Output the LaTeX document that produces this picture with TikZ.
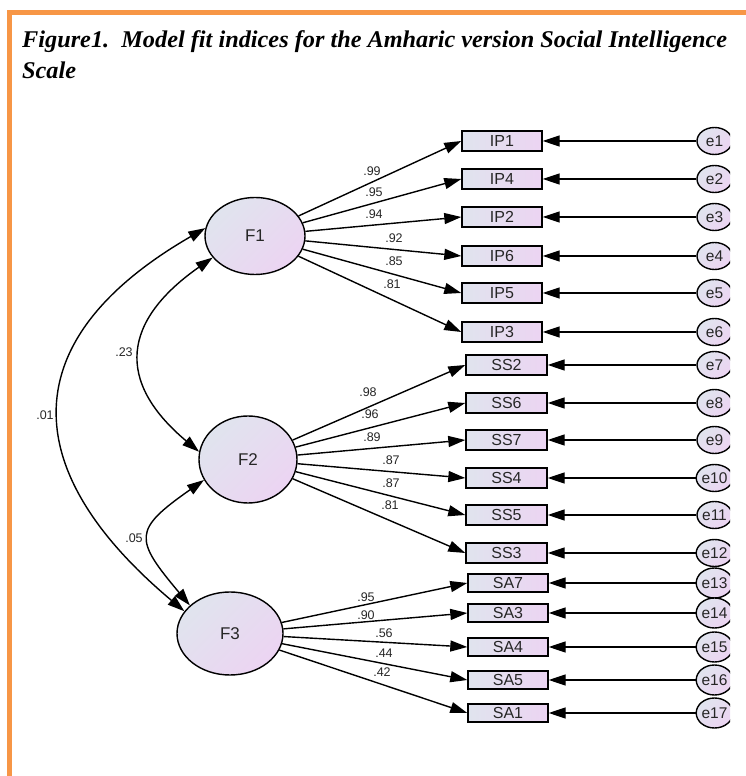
\documentclass[tikz,border=0pt]{standalone}
\usepackage{fontspec}
\usepackage{graphicx}
\setmainfont{Liberation Serif}
\newfontfamily\labfont{Liberation Sans}
\usetikzlibrary{arrows.meta,shapes.geometric}
\definecolor{frameorange}{RGB}{247,150,70}
\definecolor{shadeA}{RGB}{224,228,238}
\definecolor{shadeB}{RGB}{236,212,242}
\newlength\titlewd
\newcommand\titlestyle{\fontsize{24}{24}\selectfont\bfseries\itshape}
\newcommand\titletext{Figure1.\ \ Model fit indices for the Amharic version Social Intelligence}
\begin{document}
\settowidth\titlewd{\titlestyle\titletext}%
\pgfmathsetmacro\tsx{705/\titlewd}%
\begin{tikzpicture}[x=1pt,y=1pt,
  ind/.style={rectangle, draw=black, line width=1.4pt, minimum width=80pt, minimum height=20pt, inner sep=0pt,
    left color=shadeA, right color=shadeB, font=\labfont\fontsize{16}{16}\selectfont, text=black!85},
  lat/.style={ellipse, draw=black, line width=1.4pt, inner sep=0pt,
    top color=shadeA, bottom color=shadeB, shading angle=45, font=\labfont\fontsize{17}{17}\selectfont, text=black!85},
  err/.style={ellipse, draw=black, line width=1.4pt, minimum width=35pt, minimum height=27pt, inner sep=0pt,
    top color=shadeA, bottom color=shadeB, shading angle=45, font=\labfont\fontsize{15.5}{15.5}\selectfont, text=black!85},
  lbl/.style={inner sep=0pt, font=\labfont\fontsize{12.5}{12.5}\selectfont, text=black!85},
  load/.style={line width=1.4pt, -{Triangle[length=17pt,width=11pt]}},
  errarr/.style={line width=1.4pt, -{Triangle[length=17pt,width=11pt]}},
  cov/.style={line width=1.4pt, {Triangle[length=17pt,width=11pt]}-{Triangle[length=17pt,width=11pt]}},
  frame/.style={draw=frameorange, line width=4.5pt, line join=miter}
]
\useasboundingbox (0,0) rectangle (746,776);
% frame
\draw[frame] (9.5,0) -- (9.5,763.5) -- (746,763.5);
% title
\node[anchor=base west, inner sep=0pt] (title1) at (22,728)
  {\scalebox{\tsx}[1]{\titlestyle\titletext}};
\node[anchor=base west, inner sep=0pt] (title2) at (22,697) {\scalebox{\tsx}[1]{\titlestyle Scale}};
% latent factors
\node[lat, minimum width=100pt, minimum height=77pt] (F1) at (255,540) {F1};
\node[lat, minimum width=98pt, minimum height=87pt] (F2) at (248,316.5) {F2};
\node[lat, minimum width=106pt, minimum height=83pt] (F3) at (230,142.5) {F3};
% indicators
\foreach \n/\y in {IP1/635, IP4/597, IP2/559, IP6/520, IP5/483, IP3/444}
  \node[ind] (\n) at (502,\y) {\n};
\foreach \n/\y in {SS2/411, SS6/373, SS7/336, SS4/298, SS5/261, SS3/223}
  \node[ind, minimum width=81pt] (\n) at (506.5,\y) {\n};
\foreach \n/\y in {SA7/193, SA3/163, SA4/129, SA5/96, SA1/63}
  \node[ind, minimum height=18pt] (\n) at (508,\y) {\n};
% error terms (cut at the right edge)
\begin{scope}
\clip (0,0) rectangle (730,776);
\foreach \i/\y in {1/635, 2/597, 3/559, 4/520, 5/483, 6/444, 7/411, 8/373, 9/336, 10/298, 11/261, 12/223}
  \node[err] (e\i) at (714.5,\y) {e\i};
\foreach \i/\y in {13/193, 14/163, 15/129, 16/96, 17/63}
  \node[err, minimum height=30pt] (e\i) at (714.5,\y) {e\i};
\end{scope}
% error arrows
\foreach \i/\n in {1/IP1, 2/IP4, 3/IP2, 4/IP6, 5/IP5, 6/IP3, 7/SS2, 8/SS6, 9/SS7, 10/SS4, 11/SS5, 12/SS3, 13/SA7, 14/SA3, 15/SA4, 16/SA5, 17/SA1}
  \draw[errarr] (e\i) -- (\n.east);
% loadings
\foreach \n/\lx/\ly/\v in {IP1/372/605/.99, IP4/374/584/.95, IP2/374/562/.94, IP6/394/538/.92, IP5/394/515/.85, IP3/392/492/.81}
  {\draw[load] (F1) -- (\n.west); \node[lbl] at (\lx,\ly) {\v};}
\foreach \n/\lx/\ly/\v in {SS2/368/384/.98, SS6/370/362/.96, SS7/372/339/.89, SS4/391/316/.87, SS5/391/293/.87, SS3/390/271/.81}
  {\draw[load] (F2) -- (\n.west); \node[lbl] at (\lx,\ly) {\v};}
\foreach \n/\lx/\ly/\v in {SA7/366/179/.95, SA3/366/161/.90, SA4/384/143/.56, SA5/384/123/.44, SA1/382/104/.42}
  {\draw[load] (F3) -- (\n.west); \node[lbl] at (\lx,\ly) {\v};}
% covariances
\draw[cov] (F1.171) .. controls +(210:221) and +(140:221) .. (F3.154);
\draw[cov] (F1.207) .. controls +(215:110) and +(140:110) .. (F2.171);
\draw[cov] (F2.205) .. controls +(215:87) and +(130:87) .. (F3.145);
\node[lbl] (c13) at (45,361) {.01};
\node[lbl] (c12) at (124,424) {.23};
\node[lbl] (c23) at (134,238) {.05};
\end{tikzpicture}
\end{document}
